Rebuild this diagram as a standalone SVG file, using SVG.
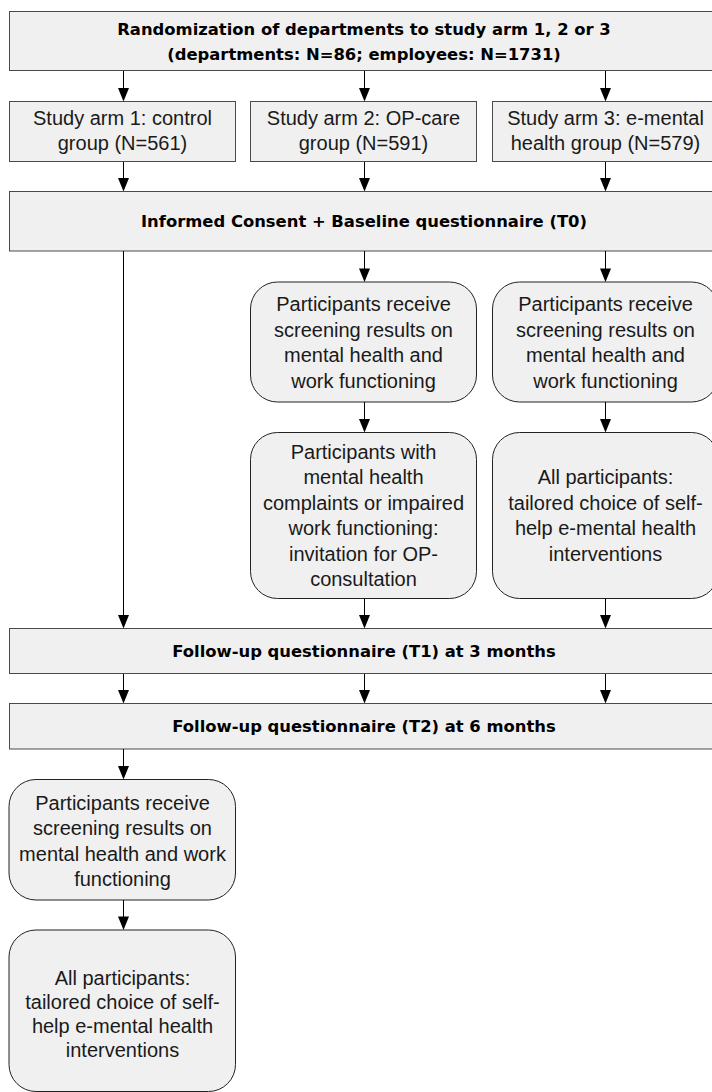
<svg xmlns="http://www.w3.org/2000/svg" width="712" height="1092" viewBox="0 0 712 1092">
  <defs>
    <style>
      .box { fill: #f0f0f0; stroke: #4a4a4a; stroke-width: 1; }
      .rbox { fill: #f0f0f0; stroke: #222; stroke-width: 1; }
      .t { font-family: "Liberation Sans", Arial, sans-serif; font-size: 20px; fill: #1a1a1a; text-anchor: middle; }
      .b { font-family: "DejaVu Sans", sans-serif; font-weight: bold; font-size: 16.4px; fill: #000; text-anchor: middle; }
      .conn line { stroke: #000; stroke-width: 1; }
      .conn path { fill: #000; stroke: none; }
    </style>
  </defs>

  <rect width="712" height="1092" fill="#fff"/>

  <!-- randomization -->
  <g id="randomization">
    <rect class="box" x="9.5" y="11.5" width="710" height="59"/>
    <text class="b" x="364" y="35">Randomization of departments to study arm 1, 2 or 3</text>
    <text class="b" x="364" y="59.5">(departments: N=86; employees: N=1731)</text>
  </g>

  <!-- study arms -->
  <g id="arm1">
    <rect class="box" x="9.5" y="101.5" width="226" height="60"/>
    <text class="t" x="122.5" y="125">Study arm 1: control</text>
    <text class="t" x="122.5" y="149.5">group (N=561)</text>
  </g>
  <g id="arm2">
    <rect class="box" x="250.5" y="101.5" width="226" height="60"/>
    <text class="t" x="363.5" y="125">Study arm 2: OP-care</text>
    <text class="t" x="363.5" y="149.5">group (N=591)</text>
  </g>
  <g id="arm3">
    <rect class="box" x="492.5" y="101.5" width="226" height="60"/>
    <text class="t" x="605.5" y="125">Study arm 3: e-mental</text>
    <text class="t" x="605.5" y="149.5">health group (N=579)</text>
  </g>

  <!-- baseline -->
  <g id="baseline">
    <rect class="box" x="9.5" y="191.5" width="710" height="59.5"/>
    <text class="b" x="364" y="227">Informed Consent + Baseline questionnaire (T0)</text>
  </g>

  <!-- OP-care path -->
  <g id="screening2">
    <rect class="rbox" x="250.5" y="282" width="226" height="120" rx="27" ry="27"/>
    <text class="t" x="363.5" y="311">Participants receive</text>
    <text class="t" x="363.5" y="336.5">screening results on</text>
    <text class="t" x="363.5" y="362">mental health and</text>
    <text class="t" x="363.5" y="387.5">work functioning</text>
  </g>
  <g id="opconsult">
    <rect class="rbox" x="250.5" y="432.5" width="226" height="166" rx="27" ry="27"/>
    <text class="t" x="363.5" y="458.5">Participants with</text>
    <text class="t" x="363.5" y="484">mental health</text>
    <text class="t" x="363.5" y="509.5">complaints or impaired</text>
    <text class="t" x="363.5" y="535">work functioning:</text>
    <text class="t" x="363.5" y="560.5">invitation for OP-</text>
    <text class="t" x="363.5" y="586">consultation</text>
  </g>

  <!-- e-mental health path -->
  <g id="screening3">
    <rect class="rbox" x="492.5" y="282" width="226" height="120" rx="27" ry="27"/>
    <text class="t" x="605.5" y="311">Participants receive</text>
    <text class="t" x="605.5" y="336.5">screening results on</text>
    <text class="t" x="605.5" y="362">mental health and</text>
    <text class="t" x="605.5" y="387.5">work functioning</text>
  </g>
  <g id="emental3">
    <rect class="rbox" x="492.5" y="432.5" width="226" height="166" rx="27" ry="27"/>
    <text class="t" x="605.5" y="484">All participants:</text>
    <text class="t" x="605.5" y="509.5">tailored choice of self-</text>
    <text class="t" x="605.5" y="535">help e-mental health</text>
    <text class="t" x="605.5" y="560.5">interventions</text>
  </g>

  <!-- follow-ups -->
  <g id="followup1">
    <rect class="box" x="9.5" y="628.5" width="710" height="45"/>
    <text class="b" x="364" y="657">Follow-up questionnaire (T1) at 3 months</text>
  </g>
  <g id="followup2">
    <rect class="box" x="9.5" y="703.5" width="710" height="45.5"/>
    <text class="b" x="364" y="732">Follow-up questionnaire (T2) at 6 months</text>
  </g>

  <!-- control group after T2 -->
  <g id="screening1">
    <rect class="rbox" x="9" y="779.5" width="226.5" height="120.5" rx="27" ry="27"/>
    <text class="t" x="122.5" y="809.5">Participants receive</text>
    <text class="t" x="122.5" y="835">screening results on</text>
    <text class="t" x="122.5" y="860.5">mental health and work</text>
    <text class="t" x="122.5" y="886">functioning</text>
  </g>
  <g id="emental1">
    <rect class="rbox" x="9" y="930" width="226.5" height="161.5" rx="27" ry="27"/>
    <text class="t" x="122.5" y="985">All participants:</text>
    <text class="t" x="122.5" y="1009">tailored choice of self-</text>
    <text class="t" x="122.5" y="1033">help e-mental health</text>
    <text class="t" x="122.5" y="1057">interventions</text>
  </g>

  <!-- connectors: vertical line plus filled head with tip on the target edge -->
  <g id="connectors" class="conn">
    <!-- randomization to arms -->
    <line x1="123.5" y1="71" x2="123.5" y2="90"/><path d="M118,88 L129,88 L123.5,101.5 Z"/>
    <line x1="364.5" y1="71" x2="364.5" y2="90"/><path d="M359,88 L370,88 L364.5,101.5 Z"/>
    <line x1="605.5" y1="71" x2="605.5" y2="90"/><path d="M600,88 L611,88 L605.5,101.5 Z"/>
    <!-- arms to baseline -->
    <line x1="123.5" y1="162" x2="123.5" y2="180"/><path d="M118,178 L129,178 L123.5,191.5 Z"/>
    <line x1="364.5" y1="162" x2="364.5" y2="180"/><path d="M359,178 L370,178 L364.5,191.5 Z"/>
    <line x1="605.5" y1="162" x2="605.5" y2="180"/><path d="M600,178 L611,178 L605.5,191.5 Z"/>
    <!-- control: baseline straight to T1 -->
    <line x1="123.5" y1="251" x2="123.5" y2="617"/><path d="M118,615 L129,615 L123.5,628.5 Z"/>
    <!-- baseline to screening feedback -->
    <line x1="364.5" y1="251" x2="364.5" y2="270"/><path d="M359,268.5 L370,268.5 L364.5,282 Z"/>
    <line x1="605.5" y1="251" x2="605.5" y2="270"/><path d="M600,268.5 L611,268.5 L605.5,282 Z"/>
    <!-- screening to interventions -->
    <line x1="364.5" y1="402" x2="364.5" y2="421"/><path d="M359,419 L370,419 L364.5,432.5 Z"/>
    <line x1="605.5" y1="402" x2="605.5" y2="421"/><path d="M600,419 L611,419 L605.5,432.5 Z"/>
    <!-- interventions to T1 -->
    <line x1="364.5" y1="598.5" x2="364.5" y2="617"/><path d="M359,615 L370,615 L364.5,628.5 Z"/>
    <line x1="605.5" y1="598.5" x2="605.5" y2="617"/><path d="M600,615 L611,615 L605.5,628.5 Z"/>
    <!-- T1 to T2 -->
    <line x1="123.5" y1="674" x2="123.5" y2="692"/><path d="M118,690 L129,690 L123.5,703.5 Z"/>
    <line x1="364.5" y1="674" x2="364.5" y2="692"/><path d="M359,690 L370,690 L364.5,703.5 Z"/>
    <line x1="605.5" y1="674" x2="605.5" y2="692"/><path d="M600,690 L611,690 L605.5,703.5 Z"/>
    <!-- T2 to control feedback, then interventions -->
    <line x1="123.5" y1="749" x2="123.5" y2="768"/><path d="M118,766 L129,766 L123.5,779.5 Z"/>
    <line x1="123.5" y1="900" x2="123.5" y2="918"/><path d="M118,916.5 L129,916.5 L123.5,930 Z"/>
  </g>
</svg>
